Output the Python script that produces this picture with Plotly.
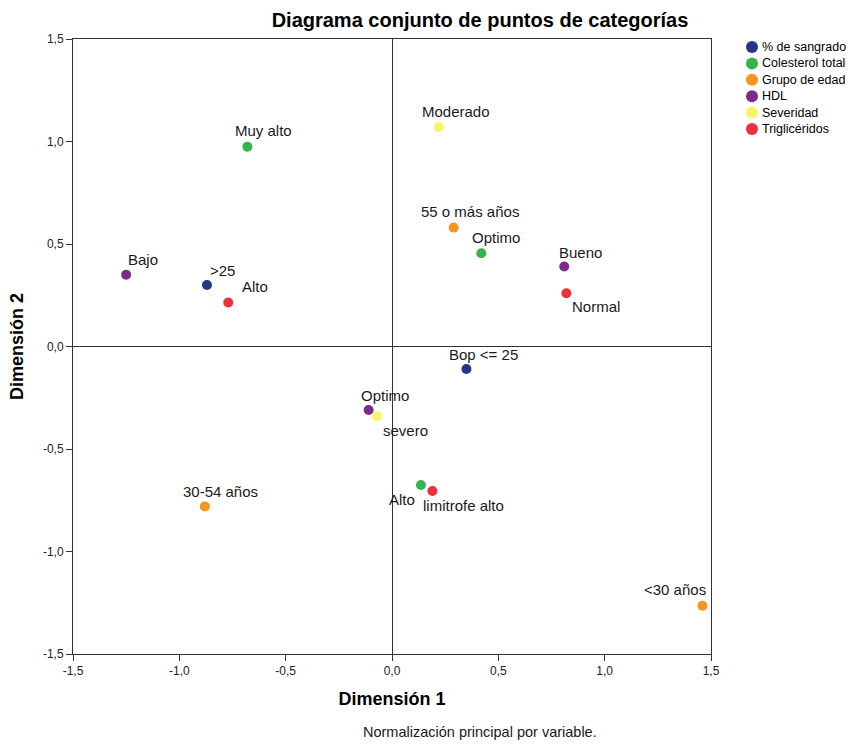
import plotly.graph_objects as go

# Data
series = ["% de sangrado", "Colesterol total", "Grupo de edad", "HDL", "Severidad", "Triglicéridos"]
colors = ["#27348b", "#36b34a", "#f7931e", "#7d2a8a", "#f9f36b", "#ee2f3c"]

labels = [
    [">25", "Bop <= 25"],
    ["Muy alto", "Optimo", "Alto"],
    ["55 o más años", "30-54 años", "<30 años"],
    ["Bajo", "Bueno", "Optimo"],
    ["Moderado", "severo"],
    ["Alto", "Normal", "limitrofe alto"],
]
dim1 = [
    [-0.87, 0.35],
    [-0.68, 0.42, 0.136],
    [0.29, -0.88, 1.46],
    [-1.25, 0.81, -0.11],
    [0.22, -0.07],
    [-0.77, 0.82, 0.19],
]
dim2 = [
    [0.30, -0.11],
    [0.975, 0.455, -0.676],
    [0.58, -0.78, -1.265],
    [0.35, 0.39, -0.31],
    [1.07, -0.34],
    [0.215, 0.26, -0.705],
]
# label offsets in pixels (dx, dy upward positive)
offsets = [
    [(16, 15), (17, 15)],
    [(16, 16), (15, 16), (-19, -14)],
    [(16, 16), (16, 15), (-27, 16)],
    [(17, 15), (16, 14), (16, 15)],
    [(17, 16), (28, -14)],
    [(27, 16), (30, -13), (31, -14)],
]

tickvals = [-1.5, -1.0, -0.5, 0.0, 0.5, 1.0, 1.5]
ticktext = ["-1,5", "-1,0", "-0,5", "0,0", "0,5", "1,0", "1,5"]

font_family = "Liberation Sans, Arial, sans-serif"

W, H = 855, 744
ML, MR, MT, MB = 73, 144, 39, 90
PW, PH = W - ML - MR, H - MT - MB

fig = go.Figure()
annotations = []
shapes = []
for s, c, labs, xs, ys, offs in zip(series, colors, labels, dim1, dim2, offsets):
    fig.add_trace(go.Scatter(
        x=xs, y=ys, mode="markers", name=s, showlegend=False,
        marker=dict(color=c, size=10, line=dict(width=0)),
    ))
    for lab, x, y, (dx, dy) in zip(labs, xs, ys, offs):
        annotations.append(dict(
            x=x, y=y, xref="x", yref="y", text=lab, showarrow=False,
            xshift=dx, yshift=dy, xanchor="center", yanchor="middle",
            font=dict(family=font_family, size=15, color="#1a1a1a"),
        ))

# Legend (drawn at the top right, outside the plot area)
leg_x = (752 - ML) / PW
for i, (s, c) in enumerate(zip(series, colors)):
    py = 47 + i * 16.4
    leg_y = 1 - (py - MT) / PH
    shapes.append(dict(
        type="circle", xref="paper", yref="paper",
        xsizemode="pixel", ysizemode="pixel",
        xanchor=leg_x, yanchor=leg_y, x0=-6, x1=6, y0=-6, y1=6,
        fillcolor=c, line=dict(width=0),
    ))
    annotations.append(dict(
        x=leg_x, y=leg_y, xref="paper", yref="paper", text=s,
        showarrow=False, xanchor="left", yanchor="middle", xshift=8,
        font=dict(family=font_family, size=12.5, color="#000000"),
    ))

annotations.append(dict(
    x=(480 - ML) / PW, y=-(732 - (MT + PH)) / PH, xref="paper", yref="paper",
    text="Normalización principal por variable.", showarrow=False,
    xanchor="center", yanchor="middle",
    font=dict(family=font_family, size=14.5, color="#1a1a1a"),
))

axis_common = dict(
    range=[-1.5, 1.5], tickvals=tickvals, ticktext=ticktext,
    showgrid=False, zeroline=True, zerolinecolor="#333333", zerolinewidth=1,
    showline=True, linecolor="#333333", linewidth=1, mirror=True,
    ticks="outside", ticklen=6, tickcolor="#333333",
    tickfont=dict(family=font_family, size=12, color="#222222"),
)

fig.update_layout(
    width=W, height=H,
    margin=dict(l=ML, r=MR, t=MT, b=MB, autoexpand=False),
    paper_bgcolor="white", plot_bgcolor="white",
    showlegend=False,
    title=dict(text="<b>Diagrama conjunto de puntos de categorías</b>",
               x=480 / W, xanchor="center", y=1 - 20 / H, yanchor="middle",
               font=dict(family=font_family, size=20, color="#000000")),
    xaxis=dict(axis_common, title=dict(text="<b>Dimensión 1</b>", standoff=14,
               font=dict(family=font_family, size=18, color="#000000"))),
    yaxis=dict(axis_common, title=dict(text="<b>Dimensión 2</b>", standoff=14,
               font=dict(family=font_family, size=18, color="#000000"))),
    annotations=annotations,
    shapes=shapes,
)

fig.write_html("out.html")
